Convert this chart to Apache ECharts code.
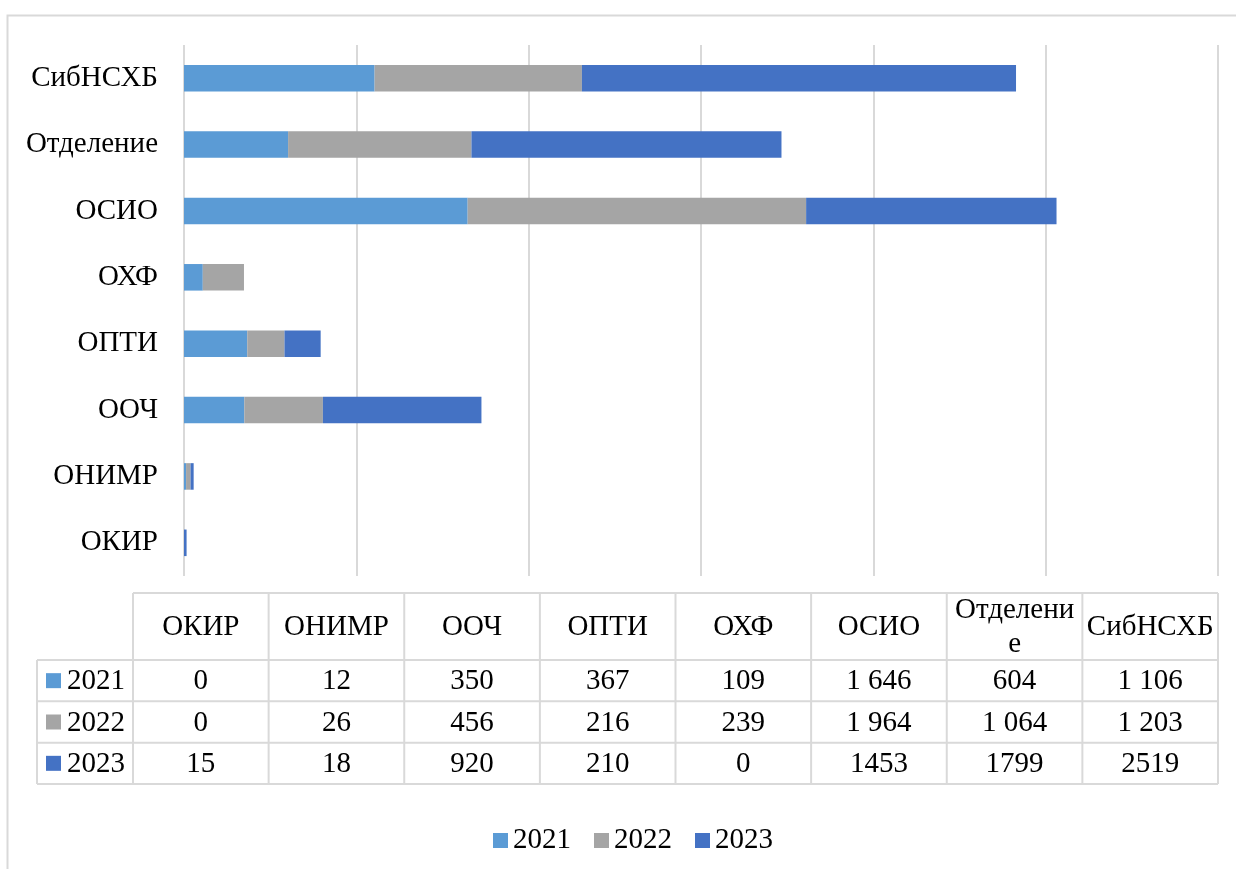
<!DOCTYPE html>
<html>
<head>
<meta charset="utf-8">
<script src="https://cdn.jsdelivr.net/npm/echarts@6/dist/echarts.min.js"></script>
<style>
  html, body { margin: 0; padding: 0; background: #fff; }
  #chart { width: 1236px; height: 869px; }
</style>
</head>
<body>
<div id="chart"></div>
<script>
// данные
const categories = ['ОКИР', 'ОНИМР', 'ООЧ', 'ОПТИ', 'ОХФ', 'ОСИО', 'Отделение', 'СибНСХБ'];
const years = ['2021', '2022', '2023'];
const values2021 = [0, 12, 350, 367, 109, 1646, 604, 1106];
const values2022 = [0, 26, 456, 216, 239, 1964, 1064, 1203];
const values2023 = [15, 18, 920, 210, 0, 1453, 1799, 2519];
// в строке 2023 числа в таблице без разделителя разрядов
const groupDigits = [true, true, false];
const axisMax = 6000;
const axisStep = 1000;

const seriesValues = [values2021, values2022, values2023];
const colors = ['#5B9BD5', '#A5A5A5', '#4472C4'];
const font = "'Liberation Serif', 'Times New Roman', serif";
const fontSize = 29;
const lineColor = '#d9d9d9';

function fmt(v, group) {
  const s = String(v);
  return group ? s.replace(/\B(?=(\d{3})+(?!\d))/g, ' ') : s;
}

// в таблице длинное название переносится по буквам, как в Excel
function headerText(name) {
  return name.length > 8 ? name.slice(0, 8) + '\n' + name.slice(8) : name;
}

// таблица данных под диаграммой
const tLeft = 37, tMid = 133, tRight = 1218;
const headTop = 593, headBottom = 660, rowH = 41.33;
const colW = (tRight - tMid) / categories.length;
const tBottom = headBottom + rowH * years.length;

const graphic = [];
// рамка диаграммы
graphic.push({
  type: 'rect', shape: {x: 7.5, y: 15.5, width: 1240, height: 870},
  style: {fill: 'none', stroke: lineColor, lineWidth: 2}, silent: true
});
// горизонтальные линии
graphic.push({type: 'line', shape: {x1: tMid, y1: headTop, x2: tRight, y2: headTop},
  style: {stroke: lineColor, lineWidth: 2}});
for (let r = 0; r <= years.length; r++) {
  const y = headBottom + r * rowH;
  graphic.push({type: 'line', shape: {x1: tLeft, y1: y, x2: tRight, y2: y},
    style: {stroke: lineColor, lineWidth: 2}});
}
// вертикальные линии
graphic.push({type: 'line', shape: {x1: tLeft, y1: headBottom, x2: tLeft, y2: tBottom},
  style: {stroke: lineColor, lineWidth: 2}});
for (let c = 0; c <= categories.length; c++) {
  const x = tMid + c * colW;
  graphic.push({type: 'line', shape: {x1: x, y1: headTop, x2: x, y2: tBottom},
    style: {stroke: lineColor, lineWidth: 2}});
}
// заголовки столбцов
categories.forEach((name, c) => {
  graphic.push({
    type: 'text',
    x: tMid + (c + 0.5) * colW,
    y: (headTop + headBottom) / 2 + 1,
    style: {
      text: headerText(name),
      font: fontSize + 'px ' + font, fill: '#000',
      align: 'center', verticalAlign: 'middle', lineHeight: 34
    }
  });
});
// строки
years.forEach((yr, r) => {
  const cy = headBottom + (r + 0.5) * rowH;
  graphic.push({type: 'rect', shape: {x: 46, y: cy - 7.5, width: 15, height: 15},
    style: {fill: colors[r]}});
  graphic.push({type: 'text', x: 67, y: cy + 1,
    style: {text: yr, font: fontSize + 'px ' + font, fill: '#000',
      align: 'left', verticalAlign: 'middle'}});
  seriesValues[r].forEach((v, c) => {
    graphic.push({type: 'text', x: tMid + (c + 0.5) * colW, y: cy + 1,
      style: {text: fmt(v, groupDigits[r]), font: fontSize + 'px ' + font, fill: '#000',
        align: 'center', verticalAlign: 'middle'}});
  });
});

const chart = echarts.init(document.getElementById('chart'));
const option = {
  backgroundColor: '#fff',
  animation: false,
  color: colors,
  textStyle: {fontFamily: font},
  legend: {
    data: years,
    left: 488,
    top: 821,
    icon: 'rect',
    itemWidth: 15,
    itemHeight: 15,
    itemGap: 23,
    textStyle: {fontSize: fontSize, color: '#000', fontFamily: font}
  },
  grid: {left: 184, right: 18, top: 45, bottom: 293, containLabel: false},
  xAxis: {
    type: 'value',
    min: 0,
    max: axisMax,
    interval: axisStep,
    axisLabel: {show: false},
    axisLine: {show: false},
    axisTick: {show: false},
    splitLine: {show: true, lineStyle: {color: lineColor, width: 2}}
  },
  yAxis: {
    type: 'category',
    data: categories,
    axisLine: {show: false},
    axisTick: {show: false},
    axisLabel: {color: '#000', fontSize: fontSize, fontFamily: font, margin: 26}
  },
  series: years.map((yr, i) => ({
    name: yr,
    type: 'bar',
    stack: 'total',
    barWidth: '40%',
    data: seriesValues[i],
    itemStyle: {color: colors[i]}
  })),
  graphic: graphic
};
chart.setOption(option);
</script>
</body>
</html>
